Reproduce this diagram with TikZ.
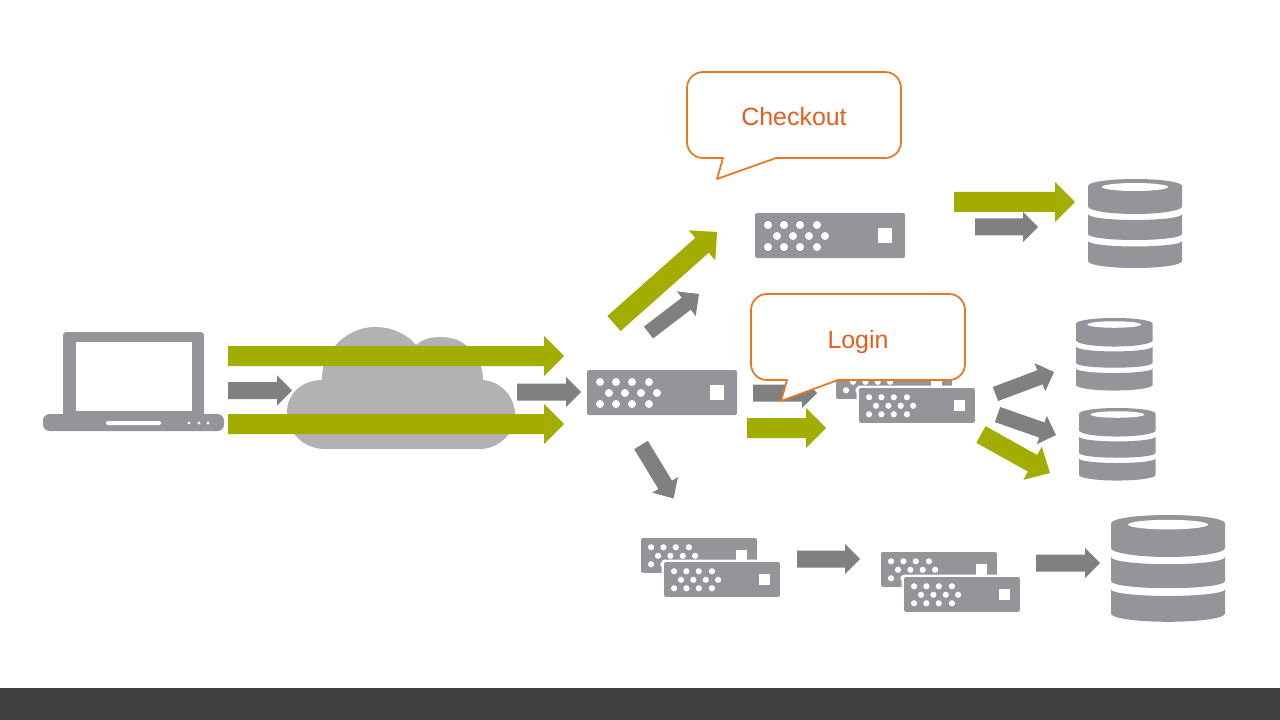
\documentclass[tikz,border=0pt]{standalone}
\usepackage{fontspec}
\setmainfont{Liberation Sans}
\usetikzlibrary{calc}
\definecolor{devgray}{HTML}{939598}
\definecolor{arrgray}{HTML}{7F8180}
\definecolor{arrgreen}{HTML}{A2AD00}
\definecolor{cloudgray}{HTML}{B2B2B4}
\definecolor{footer}{HTML}{404241}
\definecolor{callline}{HTML}{E87722}
\definecolor{calltext}{HTML}{E35F1E}
\newcommand{\serverbody}{%
    \fill[devgray,rounded corners=1.5pt] (0,0) rectangle (150,45);
    \foreach \dx in {13,29,45,62}{\fill[white] (\dx,12) circle[radius=4]; \fill[white] (\dx,34) circle[radius=4];}
    \foreach \dx in {22,38,54,70}{\fill[white] (\dx,23) circle[radius=4];}
    \fill[white] (123,15) rectangle (137,30);}
\tikzset{
  calloutbox/.style={draw=callline,fill=white,line width=1.3pt,rounded corners=12pt,line join=round},
  calloutlabel/.style={text=calltext,font=\fontsize{18.7}{20}\selectfont,inner sep=0pt,anchor=base},
  server/.pic={\serverbody},
  serverfront/.pic={
    \fill[white,rounded corners=2pt] (-3,-3) rectangle (153,48);
    \serverbody
  },
  dbstack/.pic={
    \fill[devgray] (0,7) .. controls (0,3) and (21,0) .. (47,0) .. controls (73,0) and (94,3) .. (94,7) -- (94,27.5)
       .. controls (94,31.5) and (73,35) .. (47,35) .. controls (21,35) and (0,31.5) .. (0,27.5) -- cycle;
    \fill[devgray] (0,35) .. controls (0,38.5) and (21,41) .. (47,41) .. controls (73,41) and (94,38.5) .. (94,35) -- (94,55)
       .. controls (94,58.5) and (73,61) .. (47,61) .. controls (21,61) and (0,58.5) .. (0,55) -- cycle;
    \fill[devgray] (0,62) .. controls (0,65) and (21,67.5) .. (47,67.5) .. controls (73,67.5) and (94,65) .. (94,62) -- (94,82)
       .. controls (94,86) and (73,89) .. (47,89) .. controls (21,89) and (0,86) .. (0,82) -- cycle;
    \fill[white] (47,8) ellipse[x radius=33,y radius=4];
  },
}
% block arrow between two named coordinates
\newcommand{\blockarr}[7]{%
  \coordinate (#1a) at (#2);
  \coordinate (#1b) at (#3);
  \coordinate (#1h) at ($(#1b)!#7*0.75pt!(#1a)$);
  \fill[#4] ($(#1a)!#5*0.75pt!90:(#1b)$)
    -- ($(#1h)!#5*0.75pt!-90:(#1a)$)
    -- ($(#1h)!#6*0.75pt!-90:(#1a)$)
    -- (#1b)
    -- ($(#1h)!#6*0.75pt!90:(#1a)$)
    -- ($(#1h)!#5*0.75pt!90:(#1a)$)
    -- ($(#1a)!#5*0.75pt!-90:(#1b)$) -- cycle;}
\newcommand{\greenarr}[3]{\blockarr{#1}{#2}{#3}{arrgreen}{10}{20}{20}}
\newcommand{\grayarr}[3]{\blockarr{#1}{#2}{#3}{arrgray}{8.5}{15}{15}}
\begin{document}
\begin{tikzpicture}[x=0.75pt,y=-0.75pt]
\useasboundingbox (0,0) rectangle (1280,720);
\fill[white] (0,0) rectangle (1280,720);
\fill[footer] (0,688) rectangle (1280,720);

% laptop
\fill[devgray,rounded corners=2.5pt] (63,332) rectangle (204,420);
\fill[white] (76,342) rectangle (192,411);
\fill[devgray,rounded corners=5pt] (43,414) rectangle (224,431);
\fill[white,rounded corners=1pt] (106,421) rectangle (161,425);
\foreach \dx in {189,199,208}{\fill[white] (\dx,423) circle[radius=1.7];}

% cloud
\fill[cloudgray] (325,449) .. controls (303,449) and (287,432) .. (287,412)
  .. controls (287,394) and (302,380) .. (322,380)
  .. controls (322,364) and (326,356) .. (335,346)
  .. controls (345,334) and (360,327) .. (375,327)
  .. controls (392,327) and (407,334) .. (416,345)
  .. controls (423,339) and (431,337) .. (440,337)
  .. controls (451,337) and (460,340) .. (467,346)
  .. controls (478,356) and (483,367) .. (483,380)
  .. controls (503,382) and (515,398) .. (515,415)
  .. controls (515,435) and (497,449) .. (480,449) -- cycle;

% servers
\pic at (755,213) {server};
\pic at (587,370) {server};
\pic[scale=0.773] at (836,364) {server};
\pic[scale=0.773] at (859,388) {serverfront};
\pic[scale=0.773] at (641,538) {server};
\pic[scale=0.773] at (664,562) {serverfront};
\pic[scale=0.773] at (881,552) {server};
\pic[scale=0.773] at (904,577) {serverfront};

% databases
\pic at (1088,179) {dbstack};
\pic[scale=0.815] at (1076,318) {dbstack};
\pic[scale=0.815] at (1079,408) {dbstack};
\pic[xscale=1.213,yscale=1.2] at (1111,515) {dbstack};

% arrows
\grayarr{ga}{228,390.5}{292,390.5}
\greenarr{ea}{228,356}{564,356}
\greenarr{eb}{228,424}{564,424}
\grayarr{gb}{517,392}{581,392}
\greenarr{ec}{614,323.5}{717,232}
\blockarr{gc}{648.5,332.5}{699,294}{arrgray}{7.5}{15.5}{16}
\blockarr{gd}{641,445}{673.5,498.5}{arrgray}{8}{15}{16}
\greenarr{ed}{954,202}{1075,202}
\grayarr{ge}{975,227}{1038,227}
\grayarr{gf}{753,393}{817,393}
\greenarr{ee}{747,428}{826,428}
\blockarr{gg}{995.5,394}{1054,372}{arrgray}{7.5}{15}{15}
\blockarr{gh}{997.5,414.5}{1056,435}{arrgray}{8}{15}{15}
\blockarr{ef}{981,434.5}{1050,473}{arrgreen}{9.5}{19}{20}
\grayarr{gi}{797,559}{860,559}
\grayarr{gj}{1036,563}{1100,563}

% callouts
\draw[calloutbox] (687,72) -- (901,72) -- (901,158) -- (800,158) [sharp corners] -- (776,158) -- (717,179) -- (723,158) -- (710,158) [rounded corners=12pt] -- (687,158) -- cycle;
\node[calloutlabel] (checkout) at (794,126) {Checkout};
\draw[calloutbox] (751,294) -- (965,294) -- (965,380) -- (860,380) [sharp corners] -- (838,380) -- (781,401) -- (787,380) -- (775,380) [rounded corners=12pt] -- (751,380) -- cycle;
\node[calloutlabel] (login) at (858,348) {Login};
\end{tikzpicture}
\end{document}
